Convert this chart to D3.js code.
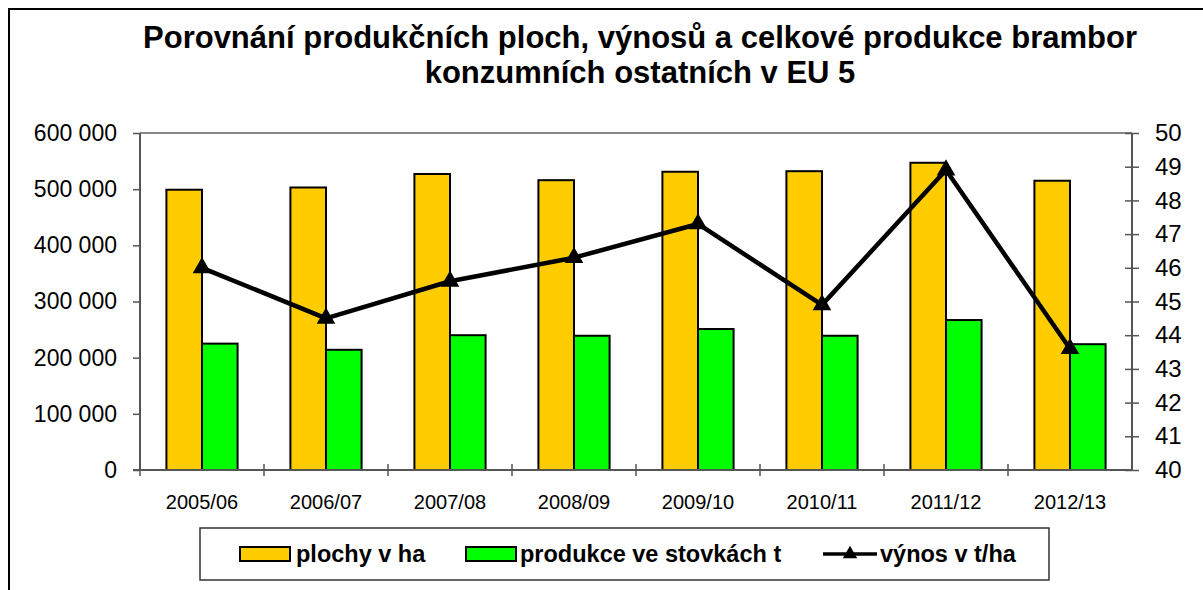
<!DOCTYPE html>
<html>
<head>
<meta charset="utf-8">
<script src="https://d3js.org/d3.v7.min.js"></script>
<style>
  body { margin: 0; background: #fff; }
  svg { font-family: "Liberation Sans", Arial, sans-serif; display: block; }
</style>
</head>
<body>
<div id="chart"></div>
<script>
// data
var categories = ['2005/06', '2006/07', '2007/08', '2008/09', '2009/10', '2010/11', '2011/12', '2012/13'];
var plochy = [499000, 503000, 527000, 516000, 531000, 532000, 547000, 515000];
var produkce = [225000, 214000, 240000, 239000, 251000, 239000, 267000, 224000];
var vynos = [46.0, 44.5, 45.6, 46.3, 47.3, 44.9, 48.9, 43.6];
var leftTicks = [0, 100000, 200000, 300000, 400000, 500000, 600000];
var rightTicks = [40, 41, 42, 43, 44, 45, 46, 47, 48, 49, 50];
var seriesNames = ['plochy v ha', 'produkce ve stovkách t', 'výnos v t/ha'];
var titleLines = ['Porovnání produkčních ploch, výnosů a celkové produkce brambor', 'konzumních ostatních v EU 5'];

var ORANGE = '#FFCC00';
var GREEN = '#00FF00';
var AXIS_COLOR = '#555555';
var FONT = '"Liberation Sans", Arial, sans-serif';

var width = 1203, height = 590;
var margin = { top: 133, right: 71, bottom: 120, left: 140 };
var plotW = width - margin.left - margin.right,
  plotH = height - margin.top - margin.bottom;

var locale = d3.formatLocale({ decimal: ',', thousands: ' ', grouping: [3], currency: ['', ''] });
var fmt = locale.format(',d');

var svg = d3.select('#chart').append('svg')
  .attr('width', width)
  .attr('height', height);

// outer chart border (runs off the right and bottom of the picture)
svg.append('rect')
  .attr('x', 9).attr('y', 9)
  .attr('width', 1220).attr('height', 600)
  .attr('fill', 'none')
  .attr('stroke', '#000')
  .attr('stroke-width', 2);

// title
svg.append('text')
  .attr('x', 640)
  .attr('y', 48)
  .attr('text-anchor', 'middle')
  .attr('font-size', '31px')
  .attr('font-weight', 'bold')
  .selectAll('tspan')
  .data(titleLines)
  .enter()
  .append('tspan')
  .attr('x', 640)
  .attr('dy', function(d, i) { return i === 0 ? 0 : 35; })
  .text(function(d) { return d; });

var g = svg.append('g').attr('transform', 'translate(' + margin.left + ',' + margin.top + ')');

var x0 = d3.scaleBand().domain(categories).range([0, plotW]).paddingInner(0).paddingOuter(0);
var x1 = d3.scaleBand().domain(['plochy', 'produkce']).range([0, x0.bandwidth()]).paddingInner(0).paddingOuter(0.742);
var yL = d3.scaleLinear().domain([0, 600000]).range([plotH, 0]);
var yR = d3.scaleLinear().domain([40, 50]).range([plotH, 0]);

// plot area top border
g.append('line')
  .attr('x1', 0).attr('x2', plotW)
  .attr('y1', 0).attr('y2', 0)
  .attr('stroke', '#888')
  .attr('stroke-width', 2);

// bars
var groups = g.append('g')
  .selectAll('g')
  .data(categories)
  .enter()
  .append('g')
  .attr('transform', function(d) { return 'translate(' + x0(d) + ',0)'; });

groups.append('rect')
  .attr('x', x1('plochy'))
  .attr('y', function(d, i) { return yL(plochy[i]); })
  .attr('width', x1.bandwidth())
  .attr('height', function(d, i) { return plotH - yL(plochy[i]); })
  .attr('fill', ORANGE)
  .attr('stroke', '#000')
  .attr('stroke-width', 2);

groups.append('rect')
  .attr('x', x1('produkce'))
  .attr('y', function(d, i) { return yL(produkce[i]); })
  .attr('width', x1.bandwidth())
  .attr('height', function(d, i) { return plotH - yL(produkce[i]); })
  .attr('fill', GREEN)
  .attr('stroke', '#000')
  .attr('stroke-width', 2);

// left axis
var leftAxis = g.append('g')
  .call(d3.axisLeft(yL).tickValues(leftTicks).tickFormat(fmt).tickSize(7).tickPadding(16));
leftAxis.selectAll('.domain').attr('stroke', AXIS_COLOR).attr('stroke-width', 2).attr('d', 'M0,0V' + plotH);
leftAxis.selectAll('.tick line').attr('stroke', AXIS_COLOR).attr('stroke-width', 1.5);
leftAxis.selectAll('.tick text').attr('font-size', '23px').attr('fill', '#000').attr('font-family', FONT);

// right axis
var rightAxis = g.append('g')
  .attr('transform', 'translate(' + plotW + ',0)')
  .call(d3.axisRight(yR).tickValues(rightTicks).tickSize(7).tickPadding(16));
rightAxis.selectAll('.domain').attr('stroke', AXIS_COLOR).attr('stroke-width', 2).attr('d', 'M0,0V' + plotH);
rightAxis.selectAll('.tick line').attr('stroke', AXIS_COLOR).attr('stroke-width', 1.5).attr('x1', -7);
rightAxis.selectAll('.tick text').attr('font-size', '24px').attr('fill', '#000').attr('font-family', FONT);

// bottom axis, ticks between categories
var bottomAxis = g.append('g')
  .attr('transform', 'translate(0,' + plotH + ')')
  .call(d3.axisBottom(x0).tickSize(0).tickPadding(25));
bottomAxis.selectAll('.domain').attr('stroke', AXIS_COLOR).attr('stroke-width', 2).attr('d', 'M-7,0H' + plotW);
bottomAxis.selectAll('.tick text').attr('font-size', '20px').attr('fill', '#000').attr('font-family', FONT);
bottomAxis.selectAll('.sep')
  .data(categories)
  .enter()
  .append('line')
  .attr('class', 'sep')
  .attr('x1', function(d) { return x0(d); })
  .attr('x2', function(d) { return x0(d); })
  .attr('y1', -6).attr('y2', 6)
  .attr('stroke', AXIS_COLOR)
  .attr('stroke-width', 1.5);

// yield line
var lineGen = d3.line()
  .x(function(d, i) { return x0(categories[i]) + x0.bandwidth() / 2; })
  .y(function(d) { return yR(d); });

g.append('path')
  .datum(vynos)
  .attr('d', lineGen)
  .attr('fill', 'none')
  .attr('stroke', '#000')
  .attr('stroke-width', 4.5)
  .attr('stroke-linejoin', 'round');

var tri = d3.symbol().type(d3.symbolTriangle).size(150);
g.append('g')
  .selectAll('path')
  .data(vynos)
  .enter()
  .append('path')
  .attr('d', tri)
  .attr('transform', function(d, i) { return 'translate(' + (x0(categories[i]) + x0.bandwidth() / 2) + ',' + yR(d) + ')'; })
  .attr('fill', '#000');

// legend
var legend = svg.append('g');
legend.append('rect')
  .attr('x', 200).attr('y', 528)
  .attr('width', 849).attr('height', 52)
  .attr('fill', '#fff')
  .attr('stroke', '#333')
  .attr('stroke-width', 1.5);

var legendY = 554;
legend.append('rect')
  .attr('x', 240).attr('y', legendY - 7)
  .attr('width', 50).attr('height', 14)
  .attr('fill', ORANGE).attr('stroke', '#000').attr('stroke-width', 2);
legend.append('rect')
  .attr('x', 466).attr('y', legendY - 7)
  .attr('width', 50).attr('height', 14)
  .attr('fill', GREEN).attr('stroke', '#000').attr('stroke-width', 2);
legend.append('line')
  .attr('x1', 823).attr('x2', 877)
  .attr('y1', legendY).attr('y2', legendY)
  .attr('stroke', '#000').attr('stroke-width', 3.5);
legend.append('path')
  .attr('d', d3.symbol().type(d3.symbolTriangle).size(90))
  .attr('transform', 'translate(850,' + legendY + ')')
  .attr('fill', '#000');

var legendX = [296, 520, 880];
legend.selectAll('.ltext')
  .data(seriesNames)
  .enter()
  .append('text')
  .attr('class', 'ltext')
  .attr('x', function(d, i) { return legendX[i]; })
  .attr('y', legendY + 8)
  .attr('font-size', '23.5px')
  .attr('font-weight', 'bold')
  .text(function(d) { return d; });
</script>
</body>
</html>
